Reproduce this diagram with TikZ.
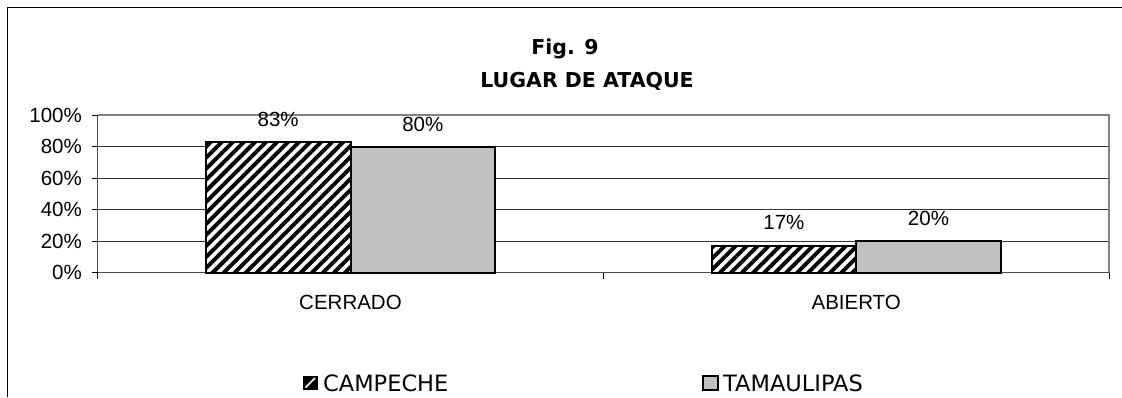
\documentclass[tikz,border=0pt]{standalone}
\usepackage{fontspec}
\setmainfont{Liberation Sans}
\newfontfamily\comicfont{DejaVu Sans}
\usetikzlibrary{patterns.meta}
\definecolor{tamgray}{RGB}{192,192,192}
\tikzset{
	campeche/.style={preaction={fill=white}, pattern={Lines[angle=45,distance=7.8pt,line width=3.9pt]}, pattern color=black, draw=black, line width=2pt},
	tamaulipas/.style={fill=tamgray, draw=black, line width=2pt},
	gridline/.style={line width=1pt, color=black!80},
	axislbl/.style={font=\fontsize{20.5}{24}\selectfont, inner sep=0pt},
	titlelbl/.style={font=\comicfont\bfseries\fontsize{20.5}{24}\selectfont, inner sep=0pt, anchor=base},
	legendlbl/.style={font=\comicfont\fontsize{22.5}{27}\selectfont, inner sep=0pt, anchor=base west},
}

\begin{document}
\begin{tikzpicture}[x=1pt, y=-1pt]
		%%%%% START %%%%%
		\useasboundingbox (0, 0) rectangle (1122, 397);
		\fill[white] (0, 0) rectangle (1122, 397);
		
		% chart frame
		\draw[line width=1.5pt] (1122, 7.5) -- (7.5, 7.5) -- (7.5, 397);
		
		\node[titlelbl] (fig) at (565, 54) {Fig. 9};
		\node[titlelbl] (title) at (587, 87) {LUGAR DE ATAQUE};
		
		% plot area
		\draw[gridline] (97.7, 241.2) -- (1109, 241.2);
		\draw[gridline] (97.7, 209.7) -- (1109, 209.7);
		\draw[gridline] (97.7, 178.3) -- (1109, 178.3);
		\draw[gridline] (97.7, 146.8) -- (1109, 146.8);
		\draw[line width=2pt, color=black!50] (97.7, 115.3) -- (1109, 115.3) -- (1109, 272.7);
		\draw[line width=1.5pt, color=black!70] (97.7, 115.3) -- (97.7, 272.7) -- (1109, 272.7);
		
		% ticks
		\draw[line width=1pt] (91.7, 272.7) -- (97.7, 272.7);
		\draw[line width=1pt] (91.7, 241.2) -- (97.7, 241.2);
		\draw[line width=1pt] (91.7, 209.7) -- (97.7, 209.7);
		\draw[line width=1pt] (91.7, 178.3) -- (97.7, 178.3);
		\draw[line width=1pt] (91.7, 146.8) -- (97.7, 146.8);
		\draw[line width=1pt] (91.7, 115.3) -- (97.7, 115.3);
		\draw[line width=1pt] (97.7, 272.7) -- (97.7, 279);
		\draw[line width=1pt] (603.4, 272.7) -- (603.4, 279);
		\draw[line width=1pt] (1109, 272.7) -- (1109, 279);
		
		\node[axislbl, anchor=east] (y0) at (82, 272.7) {0\%};
		\node[axislbl, anchor=east] (y20) at (82, 241.2) {20\%};
		\node[axislbl, anchor=east] (y40) at (82, 209.7) {40\%};
		\node[axislbl, anchor=east] (y60) at (82, 178.3) {60\%};
		\node[axislbl, anchor=east] (y80) at (82, 146.8) {80\%};
		\node[axislbl, anchor=east] (y100) at (82, 115.3) {100\%};
		
		% bars
		\draw[campeche] (205.9, 272.7) rectangle (350.5, 142.1);
		\draw[tamaulipas] (350.5, 272.7) rectangle (495.1, 146.8);
		\draw[campeche] (711.6, 272.7) rectangle (856.2, 245.9);
		\draw[tamaulipas] (856.2, 272.7) rectangle (1000.8, 241.2);
		
		\node[axislbl, anchor=base] (v83) at (278.2, 126) {83\%};
		\node[axislbl, anchor=base] (v80) at (422.8, 131) {80\%};
		\node[axislbl, anchor=base] (v17) at (783.9, 229.5) {17\%};
		\node[axislbl, anchor=base] (v20) at (928.5, 225) {20\%};
		
		\node[axislbl, anchor=base] (cerrado) at (350.5, 309.5) {CERRADO};
		\node[axislbl, anchor=base] (abierto) at (856.2, 309.5) {ABIERTO};
		
		% legend
		\fill (303, 375.5) rectangle (317.5, 390);
		\draw[white, line width=1.6pt] (305.5, 387.5) -- (315, 378);
		\draw[tamaulipas] (703, 375.5) rectangle (717.5, 390);
		\node[legendlbl] (lcamp) at (323, 391) {CAMPECHE};
		\node[legendlbl] (ltam) at (723, 391) {TAMAULIPAS};
		
		%%%%% END %%%%%
	\end{tikzpicture}
\end{document}
